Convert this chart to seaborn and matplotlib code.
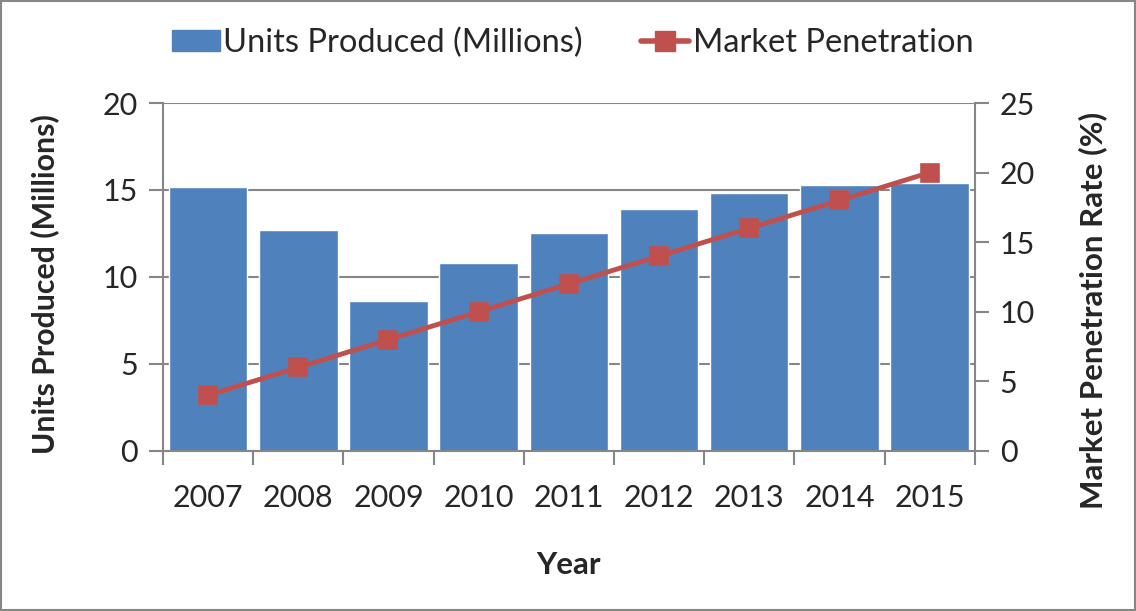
import matplotlib
matplotlib.use("Agg")
import matplotlib.pyplot as plt
import seaborn as sns
import numpy as np
import pandas as pd
from matplotlib.lines import Line2D
from matplotlib.patches import Patch, Rectangle

years = ["2007", "2008", "2009", "2010", "2011", "2012", "2013", "2014", "2015"]
units = [15.2, 12.7, 8.6, 10.8, 12.5, 13.9, 14.8, 15.3, 15.4]
penetration = [4, 6, 8, 10, 12, 14, 16, 18, 20]

sns.set_theme(style="white")
plt.rcParams['font.family'] = ['Lato', 'DejaVu Sans']

BLUE = "#4F81BD"
RED = "#C0504D"
GRAY = "#868686"

df = pd.DataFrame({"Year": years, "Units": units, "Pen": penetration})

fig = plt.figure(figsize=(11.36, 6.11), dpi=100)
ax = fig.add_axes([0.1435, 0.262, 0.7145, 0.5694])
sns.barplot(data=df, x="Year", y="Units", color=BLUE, width=0.87, saturation=1,
            ax=ax, zorder=2)
ax.set_ylim(0, 20)
ax.set_xlim(-0.5, 8.5)
ax.set_yticks([0, 5, 10, 15, 20])
ax.yaxis.grid(True, color=GRAY, linewidth=1.5, zorder=0)
ax.set_axisbelow(True)
ax.xaxis.grid(False)

ax2 = ax.twinx()
sns.pointplot(data=df, x="Year", y="Pen", color=RED, markers="s", ax=ax2,
              linewidth=3.5, markersize=11)
ax2.set_ylim(0, 25)
ax2.set_yticks([0, 5, 10, 15, 20, 25])
ax2.set_xlim(-0.5, 8.5)
ax2.grid(False)

for a in (ax, ax2):
    for s in a.spines.values():
        s.set_visible(False)
ax.spines['left'].set_visible(True)
ax.spines['left'].set_color(GRAY)
ax.spines['left'].set_linewidth(1.5)
ax.spines['bottom'].set_visible(True)
ax.spines['bottom'].set_color(GRAY)
ax.spines['bottom'].set_linewidth(1.5)
ax2.spines['right'].set_visible(True)
ax2.spines['right'].set_color(GRAY)
ax2.spines['right'].set_linewidth(1.5)

ax.tick_params(axis='y', which='major', direction='out', length=10, width=1.5,
               color=GRAY, labelsize=22, pad=8, left=True)
ax2.tick_params(axis='y', which='major', direction='out', length=10, width=1.5,
                color=GRAY, labelsize=22, pad=8, right=True)
ax.set_xticks(np.arange(-0.5, 9, 1), minor=True)
ax.tick_params(axis='x', which='minor', direction='out', length=10, width=1.5,
               color=GRAY, bottom=True)
ax.tick_params(axis='x', which='major', length=0, labelsize=22, pad=24)

ax.set_xlabel("Year", fontsize=22.5, fontweight='bold', labelpad=28)
ax.set_ylabel("Units Produced (Millions)", fontsize=21.8, fontweight='bold', labelpad=31)
ax2.set_ylabel("Market Penetration Rate (%)", fontsize=22.5, fontweight='bold', labelpad=31)
ax.yaxis.label.set_y(0.48)
ax2.yaxis.label.set_y(0.405)

handles = [Patch(facecolor=BLUE, edgecolor=BLUE),
           Line2D([0], [0], color=RED, lw=4, marker='s', markersize=14)]
fig.legend(handles, ["Units Produced (Millions)", "Market Penetration"],
           loc='center', bbox_to_anchor=(0.504, 0.93), ncol=2, frameon=False,
           fontsize=23.5, handlelength=1.47, handleheight=0.6, handletextpad=0.1,
           columnspacing=1.8)

fig.patches.append(Rectangle((0.001, 0.001), 0.998, 0.997, transform=fig.transFigure,
                             fill=False, edgecolor=GRAY, linewidth=1.5))

fig.savefig("out.png", dpi=100)
